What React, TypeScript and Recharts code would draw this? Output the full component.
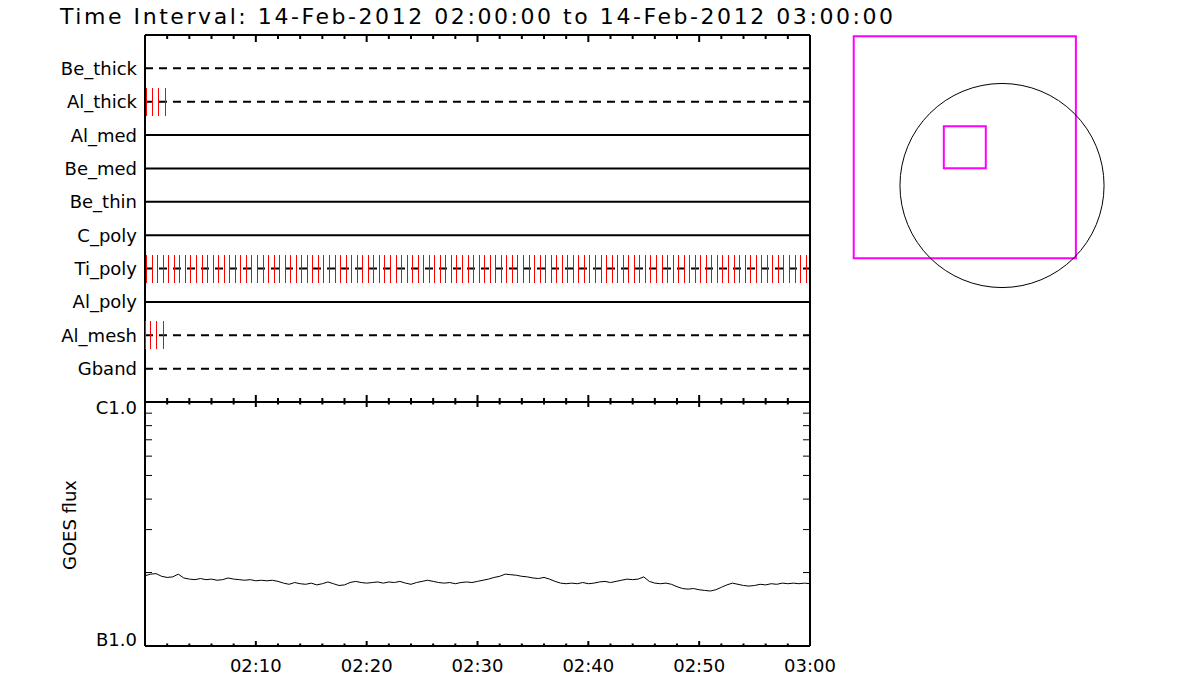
import React from 'react';
import {
  ComposedChart, LineChart, ScatterChart, Line, Scatter, XAxis, YAxis,
  ReferenceLine, ReferenceArea, ReferenceDot,
} from 'recharts';

// ---------- data ----------
const TITLE = 'Time Interval: 14-Feb-2012 02:00:00 to 14-Feb-2012 03:00:00';

const ROWS = ['Be_thick', 'Al_thick', 'Al_med', 'Be_med', 'Be_thin', 'C_poly', 'Ti_poly', 'Al_poly', 'Al_mesh', 'Gband'];
const DASHED_ROWS = ['Be_thick', 'Al_thick', 'Ti_poly', 'Al_mesh', 'Gband'];

// minutes after 02:00:00
const AL_THICK_TIMES = [0.1, 0.68, 1.26, 1.84];
const AL_MESH_TIMES = [0.05, 0.52, 1.05, 1.65];
const TI_POLY_TIMES = [
  0.15, 0.65, 1.15, 1.65, 2.15, 2.65, 3.15, 3.65, 4.15, 4.65,
  5.15, 5.65, 6.15, 6.65, 7.15, 7.65, 8.15, 8.65, 9.15, 9.65,
  10.15, 10.65, 11.15, 11.65, 12.15, 12.65, 13.15, 13.65, 14.15, 14.65,
  15.15, 15.65, 16.15, 16.65, 17.15, 17.65, 18.15, 18.65, 19.15, 19.65,
  20.15, 20.65, 21.15, 21.65, 22.15, 22.65, 23.15, 23.65, 24.15, 24.65,
  25.15, 25.65, 26.15, 26.65, 27.15, 27.65, 28.15, 28.65, 29.15, 29.65,
  30.15, 30.65, 31.15, 31.65, 32.15, 32.65, 33.15, 33.65, 34.15, 34.65,
  35.15, 35.65, 36.15, 36.65, 37.15, 37.65, 38.15, 38.65, 39.15, 39.65,
  40.15, 40.65, 41.15, 41.65, 42.15, 42.65, 43.15, 43.65, 44.15, 44.65,
  45.15, 45.65, 46.15, 46.65, 47.15, 47.65, 48.15, 48.65, 49.15, 49.65,
  50.15, 50.65, 51.15, 51.65, 52.15, 52.65, 53.15, 53.65, 54.15, 54.65,
  55.15, 55.65, 56.15, 56.65, 57.15, 57.65, 58.15, 58.65, 59.15, 59.65,
];

const GOES_TIMES = [
  0, 0.5, 1, 1.5, 2, 2.5, 3, 3.5, 4, 4.5, 5, 5.5, 6, 6.5, 7, 7.5, 8, 8.5, 9, 9.5,
  10, 10.5, 11, 11.5, 12, 12.5, 13, 13.5, 14, 14.5, 15, 15.5, 16, 16.5, 17, 17.5, 18, 18.5, 19, 19.5,
  20, 20.5, 21, 21.5, 22, 22.5, 23, 23.5, 24, 24.5, 25, 25.5, 26, 26.5, 27, 27.5, 28, 28.5, 29, 29.5,
  30, 30.5, 31, 31.5, 32, 32.5, 33, 33.5, 34, 34.5, 35, 35.5, 36, 36.5, 37, 37.5, 38, 38.5, 39, 39.5,
  40, 40.5, 41, 41.5, 42, 42.5, 43, 43.5, 44, 44.5, 45, 45.5, 46, 46.5, 47, 47.5, 48, 48.5, 49, 49.5,
  50, 50.5, 51, 51.5, 52, 52.5, 53, 53.5, 54, 54.5, 55, 55.5, 56, 56.5, 57, 57.5, 58, 58.5, 59, 59.5, 60,
];
// GOES flux in units of 1e-7 W/m^2 (B1.0 = 1, C1.0 = 10)
const GOES_FLUX = [
  1.94, 1.97, 1.98, 1.93, 1.91, 1.92, 1.97, 1.90, 1.88, 1.87, 1.89, 1.87, 1.88, 1.86, 1.87, 1.90, 1.88, 1.87, 1.86, 1.87,
  1.85, 1.86, 1.85, 1.86, 1.84, 1.81, 1.79, 1.82, 1.80, 1.79, 1.81, 1.78, 1.80, 1.83, 1.80, 1.77, 1.78, 1.82, 1.84, 1.82,
  1.81, 1.82, 1.83, 1.81, 1.83, 1.82, 1.84, 1.81, 1.79, 1.82, 1.84, 1.86, 1.84, 1.82, 1.81, 1.82, 1.80, 1.82, 1.83, 1.82,
  1.84, 1.86, 1.88, 1.91, 1.93, 1.97, 1.96, 1.95, 1.93, 1.92, 1.90, 1.89, 1.91, 1.88, 1.84, 1.81, 1.80, 1.81, 1.80, 1.82,
  1.80, 1.81, 1.83, 1.84, 1.82, 1.84, 1.86, 1.88, 1.87, 1.88, 1.92, 1.84, 1.81, 1.80, 1.81, 1.79, 1.75, 1.72, 1.71, 1.72,
  1.70, 1.69, 1.68, 1.70, 1.74, 1.78, 1.81, 1.79, 1.77, 1.76, 1.77, 1.79, 1.78, 1.80, 1.79, 1.81, 1.80, 1.81, 1.80, 1.81, 1.80,
];

const TIME_TICKS = [0, 2, 4, 6, 8, 10, 12, 14, 16, 18, 20, 22, 24, 26, 28, 30, 32, 34, 36, 38, 40, 42, 44, 46, 48, 50, 52, 54, 56, 58, 60];
const TIME_LABELS: Record<number, string> = { 10: '02:10', 20: '02:20', 30: '02:30', 40: '02:40', 50: '02:50', 60: '03:00' };
const FLUX_TICKS = [1, 2, 3, 4, 5, 6, 7, 8, 9, 10];
const FLUX_LABELS: Record<number, string> = { 1: 'B1.0', 10: 'C1.0' };

// Solar disk and imaging boxes, arcsec
const DISK = { x: 0, y: 0, r: 960 };
const FOV_BOXES = [
  { cx: -350, cy: 360, size: 2090 },
  { cx: -350, cy: 360, size: 395 },
];
const MAP_X_DOMAIN = [-1524, 1110];
const MAP_Y_DOMAIN = [-1077, 1557];

// ---------- derived ----------
const rowValue = (name: string) => ROWS.length - ROWS.indexOf(name);
const eventData = [
  ...AL_THICK_TIMES.map((t) => ({ t, y: rowValue('Al_thick') })),
  ...TI_POLY_TIMES.map((t) => ({ t, y: rowValue('Ti_poly') })),
  ...AL_MESH_TIMES.map((t) => ({ t, y: rowValue('Al_mesh') })),
];
const goesData = GOES_TIMES.map((t, i) => ({ t, v: GOES_FLUX[i] }));

const FONT = '"DejaVu Sans", sans-serif';
const AXIS_LINE = { stroke: '#000', strokeWidth: 2 };

const makeXTick = (dir: 1 | -1, major: number, minor: number, labels: boolean) => (props: any) => {
  const { x, y, payload } = props;
  const v = payload.value;
  const len = v % 10 === 0 ? major : minor;
  return (
    <g>
      <line x1={x} x2={x} y1={y} y2={y + dir * len} stroke="#000" strokeWidth={2} />
      {labels && TIME_LABELS[v] ? (
        <text x={x} y={y + 26} textAnchor="middle" fontFamily={FONT} fontSize={18} fill="#000">
          {TIME_LABELS[v]}
        </text>
      ) : null}
    </g>
  );
};

const RowTick = (props: any) => {
  const { x, y, payload } = props;
  const name = ROWS[ROWS.length - payload.value];
  return (
    <text x={x - 8} y={y} dy="0.36em" textAnchor="end" fontFamily={FONT} fontSize={18} fill="#000">
      {name}
    </text>
  );
};

const FluxTickLeft = (props: any) => {
  const { x, y, payload } = props;
  const v = payload.value;
  const lbl = FLUX_LABELS[v];
  return (
    <g>
      <line x1={x} x2={x + 7} y1={y} y2={y} stroke="#000" strokeWidth={1} />
      {lbl ? (
        <text x={x - 8} y={v === 10 ? y + 12 : y} textAnchor="end" fontFamily={FONT} fontSize={18} fill="#000">
          {lbl}
        </text>
      ) : null}
    </g>
  );
};

const FluxTickRight = (props: any) => {
  const { x, y } = props;
  return <line x1={x} x2={x - 7} y1={y} y2={y} stroke="#000" strokeWidth={1} />;
};

const EventMark = (props: any) => {
  const { cx, cy } = props;
  return (
    <line x1={cx} x2={cx} y1={cy - 14} y2={cy + 14} stroke="#ff0000" strokeWidth={1} shapeRendering="crispEdges" />
  );
};

const MAP_SIZE = 280;
const diskPx = DISK.r * MAP_SIZE / (MAP_X_DOMAIN[1] - MAP_X_DOMAIN[0]);

export default function App() {
  return (
    <div style={{ position: 'absolute', left: 0, top: 0, width: 1200, height: 700, background: '#fff' }}>
      <svg width={1200} height={700} style={{ position: 'absolute', left: 0, top: 0 }}>
        <text x={60} y={24} fontFamily={FONT} fontSize={22} fill="#000" textLength={833} lengthAdjust="spacing">
          {TITLE}
        </text>
        <text x={70} y={525} transform="rotate(-90 70 525)" dy="0.36em" textAnchor="middle" fontFamily={FONT} fontSize={18} fill="#000">
          GOES flux
        </text>
      </svg>

      {/* attenuator / filter panel */}
      <div style={{ position: 'absolute', left: 0, top: 0 }}>
        <ComposedChart width={860} height={420} margin={{ top: 33, right: 30, left: 0, bottom: 16 }}>
          <XAxis xAxisId={0} dataKey="t" type="number" domain={[0, 60]} ticks={TIME_TICKS} interval={0}
            orientation="bottom" height={2} tickSize={0} tickMargin={0} tickLine={false} axisLine={AXIS_LINE}
            tick={makeXTick(-1, 7, 4, false)} allowDataOverflow />
          <XAxis xAxisId="t" dataKey="t" type="number" domain={[0, 60]} ticks={TIME_TICKS} interval={0}
            orientation="top" height={2} tickSize={0} tickMargin={0} tickLine={false} axisLine={AXIS_LINE}
            tick={makeXTick(1, 7, 4, false)} allowDataOverflow />
          <YAxis yAxisId={0} dataKey="y" type="number" domain={[0, 11]} ticks={[1, 2, 3, 4, 5, 6, 7, 8, 9, 10]} interval={0}
            width={145} tickSize={0} tickMargin={0} tickLine={false} axisLine={AXIS_LINE} tick={RowTick} allowDataOverflow />
          <YAxis yAxisId="r" dataKey="y" type="number" domain={[0, 11]} orientation="right" width={20}
            tick={false} tickLine={false} axisLine={AXIS_LINE} />
          {ROWS.map((r) => (
            <ReferenceLine key={r} xAxisId={0} yAxisId={0} y={rowValue(r)} stroke="#000" strokeWidth={2}
              strokeDasharray={DASHED_ROWS.includes(r) ? '8 6' : undefined} />
          ))}
          <Scatter xAxisId={0} yAxisId={0} data={eventData} dataKey="y" shape={EventMark} isAnimationActive={false} />
        </ComposedChart>
      </div>

      {/* GOES panel */}
      <div style={{ position: 'absolute', left: 0, top: 380 }}>
        <LineChart width={860} height={300} data={goesData} margin={{ top: 20, right: 30, left: 0, bottom: 0 }}>
          <XAxis xAxisId={0} dataKey="t" type="number" domain={[0, 60]} ticks={TIME_TICKS} interval={0}
            orientation="bottom" height={34} tickSize={0} tickMargin={0} tickLine={false} axisLine={AXIS_LINE}
            tick={makeXTick(-1, 5, 2.5, true)} allowDataOverflow />
          <XAxis xAxisId="t" dataKey="t" type="number" domain={[0, 60]} ticks={TIME_TICKS} interval={0}
            orientation="top" height={2} tickSize={0} tickMargin={0} tickLine={false} axisLine={AXIS_LINE}
            tick={makeXTick(1, 5, 2.5, false)} allowDataOverflow />
          <YAxis yAxisId={0} type="number" scale="log" domain={[1, 10]} ticks={FLUX_TICKS} interval={0}
            width={145} tickSize={0} tickMargin={0} tickLine={false} axisLine={AXIS_LINE} tick={FluxTickLeft} allowDataOverflow />
          <YAxis yAxisId="r" type="number" scale="log" domain={[1, 10]} ticks={FLUX_TICKS} interval={0}
            orientation="right" width={20} tickSize={0} tickMargin={0} tickLine={false} axisLine={AXIS_LINE}
            tick={FluxTickRight} allowDataOverflow />
          <Line xAxisId={0} yAxisId={0} dataKey="v" type="linear" stroke="#000" strokeWidth={1} dot={false}
            isAnimationActive={false} />
        </LineChart>
      </div>

      {/* solar map */}
      <div style={{ position: 'absolute', left: 840, top: 20 }}>
        <ScatterChart width={MAP_SIZE} height={MAP_SIZE} margin={{ top: 0, right: 0, left: 0, bottom: 0 }}>
          <XAxis dataKey="x" type="number" domain={MAP_X_DOMAIN} hide allowDataOverflow />
          <YAxis dataKey="y" type="number" domain={MAP_Y_DOMAIN} hide allowDataOverflow />
          <Scatter data={[]} isAnimationActive={false} />
          <ReferenceDot x={DISK.x} y={DISK.y} r={diskPx} fill="none" stroke="#000" strokeWidth={1} ifOverflow="visible" />
          {FOV_BOXES.map((b, i) => (
            <ReferenceArea key={i} x1={b.cx - b.size / 2} x2={b.cx + b.size / 2} y1={b.cy - b.size / 2} y2={b.cy + b.size / 2}
              fill="none" fillOpacity={0} stroke="#ff00ff" strokeWidth={2} strokeOpacity={1} ifOverflow="visible" />
          ))}
        </ScatterChart>
      </div>
    </div>
  );
}
